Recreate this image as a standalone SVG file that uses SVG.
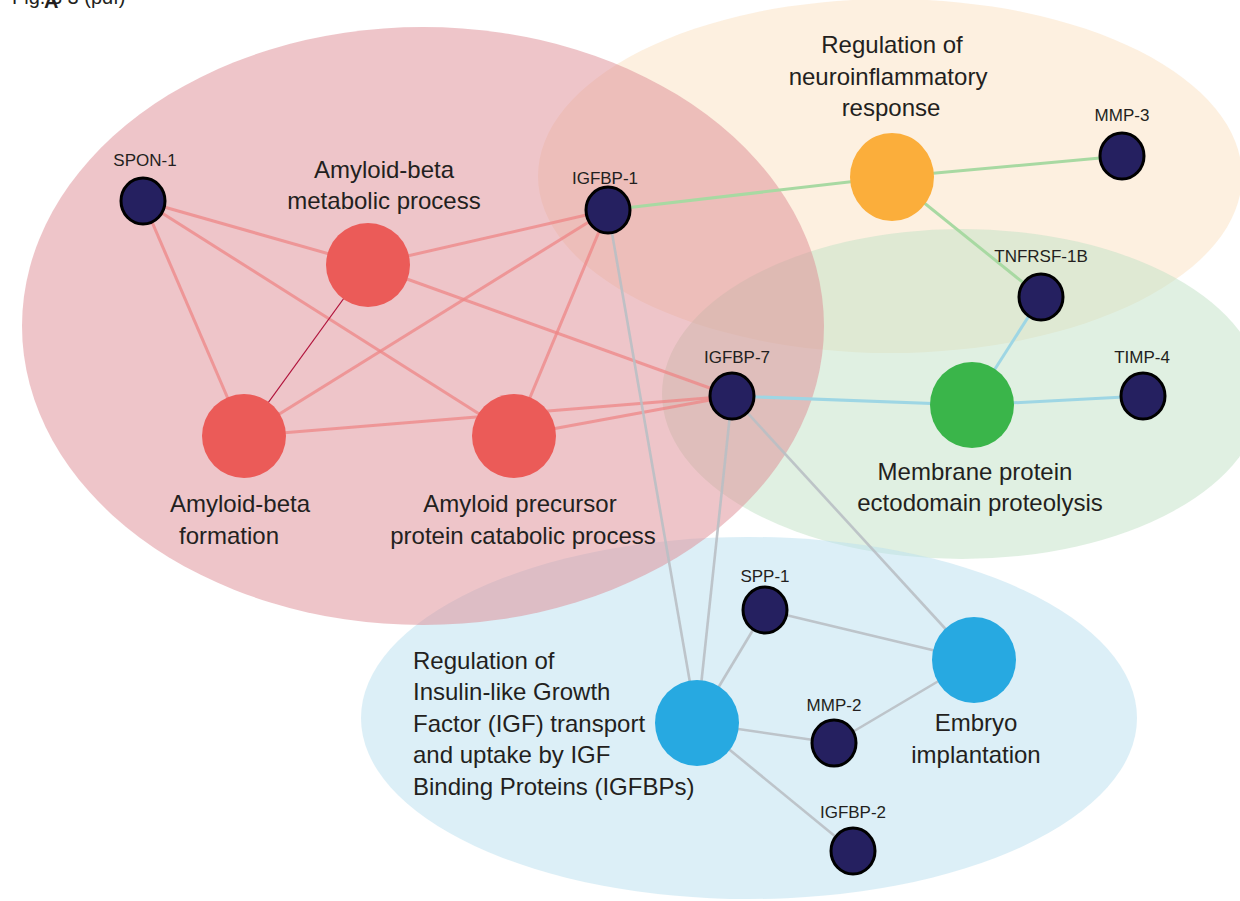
<svg xmlns="http://www.w3.org/2000/svg" width="1240" height="901" viewBox="0 0 1240 901">
<style>
text{font-family:"Liberation Sans",Arial,sans-serif;fill:#231F20}
.big{font-size:24px;text-anchor:middle}
.lft{font-size:24px;text-anchor:start}
.sm{font-size:17px;text-anchor:middle}
.gene{fill:#252060;stroke:#000;stroke-width:3}
.er{stroke:#EE8585;stroke-opacity:0.75;stroke-width:3;fill:none}
.eg{stroke:#A8D9A2;stroke-width:3;fill:none}
.ec{stroke:#9ED6E4;stroke-width:3;fill:none}
.ey{stroke:#B9BFC4;stroke-opacity:0.9;stroke-width:2.6;fill:none}
.clu{opacity:0.5}
</style>
<rect width="1240" height="901" fill="#fff"/>
<text x="12" y="4" style="font-size:20px">Fig. 3 3 (pdf)</text>
<text x="44" y="8" style="font-size:20px;font-weight:bold">A</text>
<g id="clusters">
<ellipse class="clu" cx="890" cy="176" rx="352" ry="177" fill="#FBE1C1"/>
<ellipse class="clu" cx="962" cy="394" rx="300" ry="165" fill="#C1E1C5"/>
<ellipse class="clu" cx="749" cy="718" rx="388" ry="181" fill="#B9DFEF"/>
<ellipse class="clu" cx="423" cy="326" rx="401" ry="299" fill="#DE8B93"/>
</g>
<g id="connectors">
<line class="er" x1="143" y1="201" x2="368" y2="265"/>
<line class="er" x1="143" y1="201" x2="244" y2="436"/>
<line class="er" x1="143" y1="201" x2="514" y2="436"/>
<line class="er" x1="608" y1="210" x2="368" y2="265"/>
<line class="er" x1="608" y1="210" x2="244" y2="436"/>
<line class="er" x1="608" y1="210" x2="514" y2="436"/>
<line class="er" x1="732" y1="396" x2="368" y2="265"/>
<line class="er" x1="732" y1="396" x2="244" y2="436"/>
<line class="er" x1="732" y1="396" x2="514" y2="436"/>
<line x1="368" y1="265" x2="244" y2="436" stroke="#B0123A" stroke-width="1.2"/>
<line class="eg" x1="608" y1="210" x2="892" y2="177"/>
<line class="eg" x1="892" y1="177" x2="1122" y2="156"/>
<line class="eg" x1="892" y1="177" x2="1041" y2="297"/>
<line class="ec" x1="1041" y1="297" x2="972" y2="405"/>
<line class="ec" x1="732" y1="396" x2="972" y2="405"/>
<line class="ec" x1="972" y1="405" x2="1143" y2="396"/>
<line class="ey" x1="608" y1="210" x2="697" y2="723"/>
<line class="ey" x1="732" y1="396" x2="697" y2="723"/>
<line class="ey" x1="732" y1="396" x2="974" y2="660"/>
<line class="ey" x1="765" y1="610" x2="697" y2="723"/>
<line class="ey" x1="765" y1="610" x2="974" y2="660"/>
<line class="ey" x1="834" y1="743" x2="697" y2="723"/>
<line class="ey" x1="834" y1="743" x2="974" y2="660"/>
<line class="ey" x1="853" y1="851" x2="697" y2="723"/>
</g>
<g id="n-abmeta"><circle cx="368" cy="265" r="42" fill="#EB5B58"/><text class="big" x="384" y="178">Amyloid-beta</text><text class="big" x="384" y="209">metabolic process</text></g>
<g id="n-abform"><circle cx="244" cy="436" r="42" fill="#EB5B58"/><text class="big" x="240" y="512">Amyloid-beta</text><text class="big" x="229" y="544">formation</text></g>
<g id="n-app"><circle cx="514" cy="436" r="42" fill="#EB5B58"/><text class="big" x="520" y="512">Amyloid precursor</text><text class="big" x="523" y="544">protein catabolic process</text></g>
<g id="n-neuro"><ellipse cx="892" cy="177" rx="42" ry="44" fill="#FBAE3B"/><text class="big" x="892" y="53">Regulation of</text><text class="big" x="888" y="85">neuroinflammatory</text><text class="big" x="891" y="116">response</text></g>
<g id="n-membrane"><ellipse cx="972" cy="405" rx="42" ry="43" fill="#3AB54A"/><text class="big" x="975" y="480">Membrane protein</text><text class="big" x="980" y="511">ectodomain proteolysis</text></g>
<g id="n-igf"><ellipse cx="697" cy="723" rx="42" ry="43" fill="#27A9E1"/><text class="lft" x="413" y="669">Regulation of</text><text class="lft" x="413" y="700">Insulin-like Growth</text><text class="lft" x="413" y="732">Factor (IGF) transport</text><text class="lft" x="413" y="763">and uptake by IGF</text><text class="lft" x="413" y="795">Binding Proteins (IGFBPs)</text></g>
<g id="n-embryo"><ellipse cx="974" cy="660" rx="42" ry="43" fill="#27A9E1"/><text class="big" x="976" y="731">Embryo</text><text class="big" x="976" y="763">implantation</text></g>
<g id="n-spon1"><ellipse class="gene" cx="143" cy="201" rx="22" ry="23"/><text class="sm" x="145" y="166">SPON-1</text></g>
<g id="n-igfbp1"><ellipse class="gene" cx="608" cy="210" rx="22" ry="23"/><text class="sm" x="605" y="184">IGFBP-1</text></g>
<g id="n-mmp3"><ellipse class="gene" cx="1122" cy="156" rx="22" ry="23"/><text class="sm" x="1122" y="121">MMP-3</text></g>
<g id="n-tnfrsf1b"><ellipse class="gene" cx="1041" cy="297" rx="22" ry="23"/><text class="sm" x="1041" y="262">TNFRSF-1B</text></g>
<g id="n-igfbp7"><ellipse class="gene" cx="732" cy="396" rx="22" ry="23"/><text class="sm" x="737" y="363">IGFBP-7</text></g>
<g id="n-timp4"><ellipse class="gene" cx="1143" cy="396" rx="22" ry="23"/><text class="sm" x="1142" y="363">TIMP-4</text></g>
<g id="n-spp1"><ellipse class="gene" cx="765" cy="610" rx="22" ry="23"/><text class="sm" x="765" y="582">SPP-1</text></g>
<g id="n-mmp2"><ellipse class="gene" cx="834" cy="743" rx="22" ry="23"/><text class="sm" x="834" y="711">MMP-2</text></g>
<g id="n-igfbp2"><ellipse class="gene" cx="853" cy="851" rx="22" ry="23"/><text class="sm" x="853" y="818">IGFBP-2</text></g>
</svg>
